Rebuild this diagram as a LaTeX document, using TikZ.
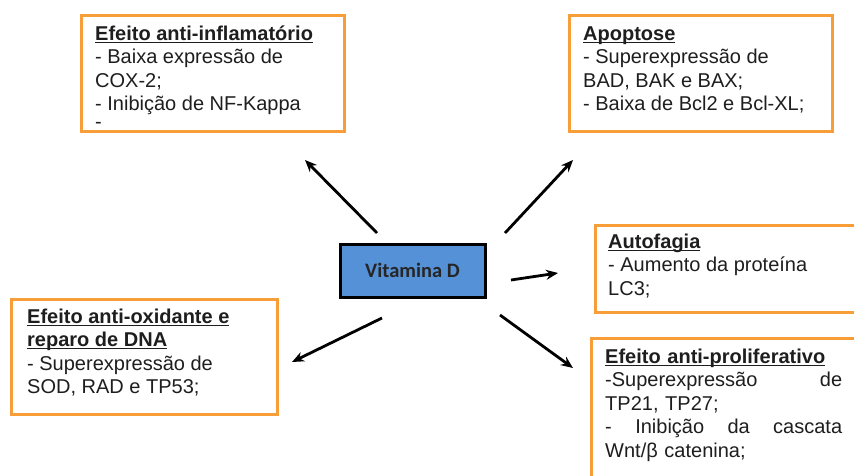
\documentclass[tikz,border=0pt]{standalone}
\usepackage{fontspec}
\setmainfont{Liberation Sans}
\newfontfamily\vitfont{Carlito}
\usetikzlibrary{arrows.meta,shadows}
\definecolor{boxorange}{RGB}{248,158,56}
\definecolor{vitblue}{RGB}{85,145,215}
\definecolor{inktext}{RGB}{30,30,30}
% bold heading with a flat underline at a fixed depth
\newcommand\ttlul[1]{\setbox0\hbox{\bfseries #1}\rlap{\rule[-2.8pt]{\wd0}{1.3pt}}\box0}
\begin{document}
\begin{tikzpicture}[x=1pt,y=-1pt,
  effbox/.style={draw=boxorange,line width=3pt,fill=white,anchor=north west,inner sep=0pt,
    drop shadow={opacity=0.18,shadow xshift=1pt,shadow yshift=-1.5pt}},
  txt/.style={inner sep=0pt,text=inktext,font=\fontsize{20}{23.5}\selectfont,anchor=north west,align=left},
  vitbox/.style={draw=black,line width=3pt,fill=vitblue,minimum width=145pt,minimum height=53pt,
    font=\vitfont\bfseries\fontsize{20.5}{24}\selectfont,text=black!85,
    drop shadow={opacity=0.3,shadow xshift=1.5pt,shadow yshift=-1.5pt}},
  effarrow/.style={line width=2.8pt,-{Stealth[length=12pt,width=10pt]}}]
\useasboundingbox (0,0) rectangle (854,476);
\clip (0,0) rectangle (854,476);

% effect boxes
\node[effbox,minimum width=263pt,minimum height=116pt] (inflam) at (79.5,14.5) {};
\node[effbox,minimum width=263pt,minimum height=116pt] (apopt) at (567.5,14.5) {};
\node[effbox,minimum width=280pt,minimum height=87pt] (autof) at (593.5,223.5) {};
\node[effbox,minimum width=280pt,minimum height=160pt] (prolif) at (589.5,336.5) {};
\node[effbox,minimum width=266pt,minimum height=115pt] (oxid) at (9.5,297.5) {};

% box texts
\node[txt] (inflamtxt) at (95,23.5) {\strut\ttlul{Efeito anti-inflamatório}\\- Baixa expressão de\\COX-2;\\- Inibição de NF-Kappa\\[-6pt]-};
\node[txt] (apopttxt) at (583,23.5) {\strut\ttlul{Apoptose}\\- Superexpressão de\\BAD, BAK e BAX;\\- Baixa de Bcl2 e Bcl-XL;};
\node[txt] (autoftxt) at (608,231.5) {\strut\ttlul{Autofagia}\\- Aumento da proteína\\LC3;};
\node[txt,text width=237pt] (prooltxt) at (605,346.5) {\strut\ttlul{Efeito anti-proliferativo}\\-Superexpressão\hfill de\\TP21, TP27;\\-\hfill Inibição\hfill da\hfill cascata\\Wnt/β catenina;};
\node[txt] (oxidtxt) at (27,306.5) {\strut\ttlul{Efeito anti-oxidante e}\\\ttlul{reparo de DNA}\\- Superexpressão de\\SOD, RAD e TP53;};

% central node
\node[vitbox] (vitd) at (412.5,270.5) {Vitamina D};

% arrow end points
\coordinate (nwS) at (377,233);  \coordinate (nwE) at (305,160);
\coordinate (neS) at (505,233);  \coordinate (neE) at (573,160);
\coordinate (eS)  at (511,280);  \coordinate (eE)  at (558,273);
\coordinate (swS) at (382,318);  \coordinate (swE) at (292,362);
\coordinate (seS) at (500,315);  \coordinate (seE) at (573,368);

\draw[effarrow] (nwS) -- (nwE);
\draw[effarrow] (neS) -- (neE);
\draw[effarrow] (eS) -- (eE);
\draw[effarrow] (swS) -- (swE);
\draw[effarrow] (seS) -- (seE);
\end{tikzpicture}
\end{document}
